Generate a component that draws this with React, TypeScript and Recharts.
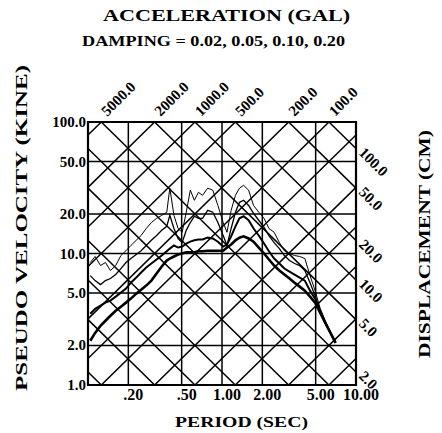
import React from "react";
import {
  LineChart,
  Line,
  XAxis,
  YAxis,
  CartesianGrid,
  ReferenceArea,
  ReferenceDot,
} from "recharts";

// periodo (s) comum aos quatro espectros
const periods = [
  0.104, 0.113, 0.124, 0.135, 0.147, 0.161, 0.176, 0.192, 0.209, 0.229,
  0.249, 0.272, 0.297, 0.325, 0.355, 0.387, 0.408, 0.438, 0.47, 0.504,
  0.541, 0.58, 0.622, 0.667, 0.716, 0.782, 0.854, 0.932, 1.02, 1.09,
  1.17, 1.26, 1.35, 1.45, 1.58, 1.72, 1.88, 2.06, 2.24, 2.45,
  2.68, 2.92, 3.19, 3.48, 3.8, 4.15, 4.54, 4.95, 5.41, 5.9,
  6.45, 7.04,
];

// pseudo velocity (kine) for each damping
const damping02 = [
  8.54, 9.49, 8.1, 8.54, 7.42, 8.1, 9.65, 10.5, 11.5, 12.6,
  13.7, 15.5, 17.2, 18.5, 19.5, 20.6, 31.4, 19.5, 15.5, 14.5,
  20.6, 30.3, 25.4, 29.2, 27.7, 31.4, 30.3, 23.2, 17.2, 14.5,
  21.3, 27.7, 31.4, 33.0, 30.3, 23.2, 20.6, 18.5, 15.5, 14.5,
  12.1, 10.5, 10.0, 9.65, 9.49, 9.16, 6.79, 5.22, 3.8, 3.08,
  2.49, 2.09,
];
const damping05 = [
  6.79, 6.22, 5.8, 6.22, 6.45, 6.92, 7.68, 8.54, 9.16, 9.83,
  10.5, 11.5, 12.6, 13.7, 15.0, 16.1, 19.5, 15.5, 13.0, 12.1,
  15.0, 17.2, 19.2, 18.5, 18.5, 21.3, 20.6, 17.2, 13.7, 11.5,
  15.5, 20.6, 24.5, 25.4, 23.2, 20.2, 17.9, 15.8, 13.7, 12.1,
  10.9, 9.65, 8.84, 8.39, 8.1, 7.42, 6.0, 4.78, 3.67, 2.97,
  2.49, 2.09,
];
const damping10 = [
  3.48, 3.8, 4.01, 4.23, 4.38, 4.7, 5.04, 5.41, 6.0, 6.56,
  7.16, 7.82, 8.39, 9.0, 9.65, 10.4, 10.9, 11.5, 11.1, 11.3,
  11.9, 12.3, 12.6, 12.8, 12.8, 13.2, 13.0, 12.3, 11.3, 11.7,
  13.5, 16.1, 18.5, 19.2, 17.9, 15.5, 13.7, 11.9, 10.4, 9.16,
  8.39, 7.68, 7.29, 6.92, 6.56, 6.22, 5.22, 4.54, 3.67, 2.97,
  2.49, 2.09,
];
const damping20 = [
  2.17, 2.49, 2.82, 3.08, 3.36, 3.67, 3.94, 4.23, 4.54, 4.95,
  5.31, 5.7, 6.22, 7.04, 7.96, 8.84, 9.16, 9.49, 9.83, 10.0,
  10.2, 10.2, 10.2, 10.4, 10.4, 10.5, 10.5, 10.5, 10.5, 11.1,
  11.7, 12.6, 13.2, 13.5, 13.0, 12.3, 11.1, 10.0, 9.0, 8.1,
  7.42, 6.92, 6.45, 6.0, 5.6, 5.22, 4.7, 4.23, 3.54, 2.97,
  2.49, 2.09,
];

const periodTicks = [0.2, 0.5, 1, 2, 5, 10];
const periodLabels = [".20", ".50", "1.00", "2.00", "5.00", "10.00"];
const velocityTicks = [1, 2, 5, 10, 20, 50, 100];
const velocityLabels = ["1.0", "2.0", "5.0", "10.0", "20.0", "50.0", "100.0"];

// linhas diagonais do papel tripartite
const accelLines = [5000, 2000, 1000, 500, 200, 100, 50, 20, 10, 5, 2, 1];
const accelLabels = [5000, 2000, 1000, 500, 200, 100];
const dispLines = [100, 50, 20, 10, 5, 2, 1, 0.5, 0.2, 0.1, 0.05, 0.02];
const dispLabels = [100, 50, 20, 10, 5, 2];

const T_MIN = 0.1;
const T_MAX = 10;
const V_MIN = 1;
const V_MAX = 100;
const TWO_PI = 2 * Math.PI;

const FONT = "Liberation Serif";
const txt = { fontFamily: FONT, fontWeight: 700, fill: "#000" } as const;

const chartData = periods.map((t, i) => ({
  t,
  h02: damping02[i],
  h05: damping05[i],
  h10: damping10[i],
  h20: damping20[i],
}));

// aceleracao constante: V = A*T/2pi
function accelSegment(a: number) {
  const k = a / TWO_PI;
  const t0 = Math.max(T_MIN, V_MIN / k);
  const t1 = Math.min(T_MAX, V_MAX / k);
  return [
    { t: t0, v: k * t0 },
    { t: t1, v: k * t1 },
  ];
}

// deslocamento constante: V = 2pi*D/T
function dispSegment(d: number) {
  const c = TWO_PI * d;
  const t0 = Math.max(T_MIN, c / V_MAX);
  const t1 = Math.min(T_MAX, c / V_MIN);
  return [
    { t: t0, v: c / t0 },
    { t: t1, v: c / t1 },
  ];
}

const XTick = (props: any) => {
  const { x, y, payload } = props;
  const idx = periodTicks.indexOf(payload.value);
  return (
    <text x={x + 5} y={y + 13} textAnchor="middle" fontSize={16} style={txt}>
      {periodLabels[idx]}
    </text>
  );
};

const YTick = (props: any) => {
  const { x, y, payload } = props;
  const idx = velocityTicks.indexOf(payload.value);
  return (
    <text x={x} y={y + 5} textAnchor="end" fontSize={15} style={txt}>
      {velocityLabels[idx]}
    </text>
  );
};

export default function App() {
  return (
    <div style={{ position: "absolute", left: 0, top: 0, width: 442, height: 433, background: "#fff" }}>
      <LineChart
        width={442}
        height={433}
        data={chartData}
        margin={{ top: 122, right: 86, bottom: 18, left: 28 }}
      >
        <CartesianGrid stroke="#000" strokeWidth={1.5} />
        <XAxis
          dataKey="t"
          type="number"
          scale="log"
          domain={[T_MIN, T_MAX]}
          allowDataOverflow
          ticks={periodTicks}
          interval={0}
          axisLine={false}
          tickLine={false}
          tickSize={0}
          height={30}
          tick={<XTick />}
        />
        <YAxis
          type="number"
          scale="log"
          domain={[V_MIN, V_MAX]}
          allowDataOverflow
          ticks={velocityTicks}
          interval={0}
          axisLine={false}
          tickLine={false}
          tickSize={0}
          tickMargin={2}
          width={60}
          tick={<YTick />}
        />
        {accelLines.map((a) => (
          <Line
            key={"a" + a}
            data={accelSegment(a)}
            dataKey="v"
            stroke="#000"
            strokeWidth={1.5}
            dot={false}
            isAnimationActive={false}
          />
        ))}
        {dispLines.map((d) => (
          <Line
            key={"d" + d}
            data={dispSegment(d)}
            dataKey="v"
            stroke="#000"
            strokeWidth={1.5}
            dot={false}
            isAnimationActive={false}
          />
        ))}
        <ReferenceArea x1={T_MIN} x2={T_MAX} y1={V_MIN} y2={V_MAX} fill="none" stroke="#000" strokeWidth={2.2} fillOpacity={0} />
        <Line dataKey="h02" stroke="#000" strokeWidth={1} dot={false} isAnimationActive={false} />
        <Line dataKey="h05" stroke="#000" strokeWidth={1.3} dot={false} isAnimationActive={false} />
        <Line dataKey="h10" stroke="#000" strokeWidth={2} dot={false} isAnimationActive={false} />
        <Line dataKey="h20" stroke="#000" strokeWidth={2.6} dot={false} isAnimationActive={false} />
        {accelLabels.map((a) => (
          <ReferenceDot
            key={"la" + a}
            x={(TWO_PI * V_MAX) / a}
            y={V_MAX}
            r={0}
            ifOverflow="visible"
            shape={(p: any) => (
              <text
                x={p.cx + 6}
                y={p.cy - 5}
                transform={`rotate(-45 ${p.cx + 6} ${p.cy - 5})`}
                fontSize={15}
                style={txt}
              >
                {a.toFixed(1)}
              </text>
            )}
          />
        ))}
        {dispLabels.map((d) => (
          <ReferenceDot
            key={"ld" + d}
            x={T_MAX}
            y={(TWO_PI * d) / T_MAX}
            r={0}
            ifOverflow="visible"
            shape={(p: any) => (
              <text
                x={p.cx + 2}
                y={p.cy + 5}
                transform={`rotate(45 ${p.cx + 2} ${p.cy + 5})`}
                fontSize={15}
                style={txt}
              >
                {d.toFixed(1)}
              </text>
            )}
          />
        ))}
      </LineChart>
      <svg width={442} height={433} style={{ position: "absolute", left: 0, top: 0, pointerEvents: "none" }}>
        <text x={226.5} y={21} textAnchor="middle" fontSize={17} textLength={247} lengthAdjust="spacingAndGlyphs" style={txt}>
          ACCELERATION (GAL)
        </text>
        <text x={213.5} y={46} textAnchor="middle" fontSize={14} textLength={263} lengthAdjust="spacingAndGlyphs" style={txt}>
          DAMPING = 0.02, 0.05, 0.10, 0.20
        </text>
        <text x={241.5} y={427} textAnchor="middle" fontSize={15} textLength={133} lengthAdjust="spacingAndGlyphs" style={txt}>
          PERIOD (SEC)
        </text>
        <text x={27} y={228} transform="rotate(-90 27 228)" textAnchor="middle" fontSize={17} textLength={326} lengthAdjust="spacingAndGlyphs" style={txt}>
          PSEUDO VELOCITY (KINE)
        </text>
        <text x={430} y={244} transform="rotate(-90 430 244)" textAnchor="middle" fontSize={17} textLength={228} lengthAdjust="spacingAndGlyphs" style={txt}>
          DISPLACEMENT (CM)
        </text>
      </svg>
    </div>
  );
}
